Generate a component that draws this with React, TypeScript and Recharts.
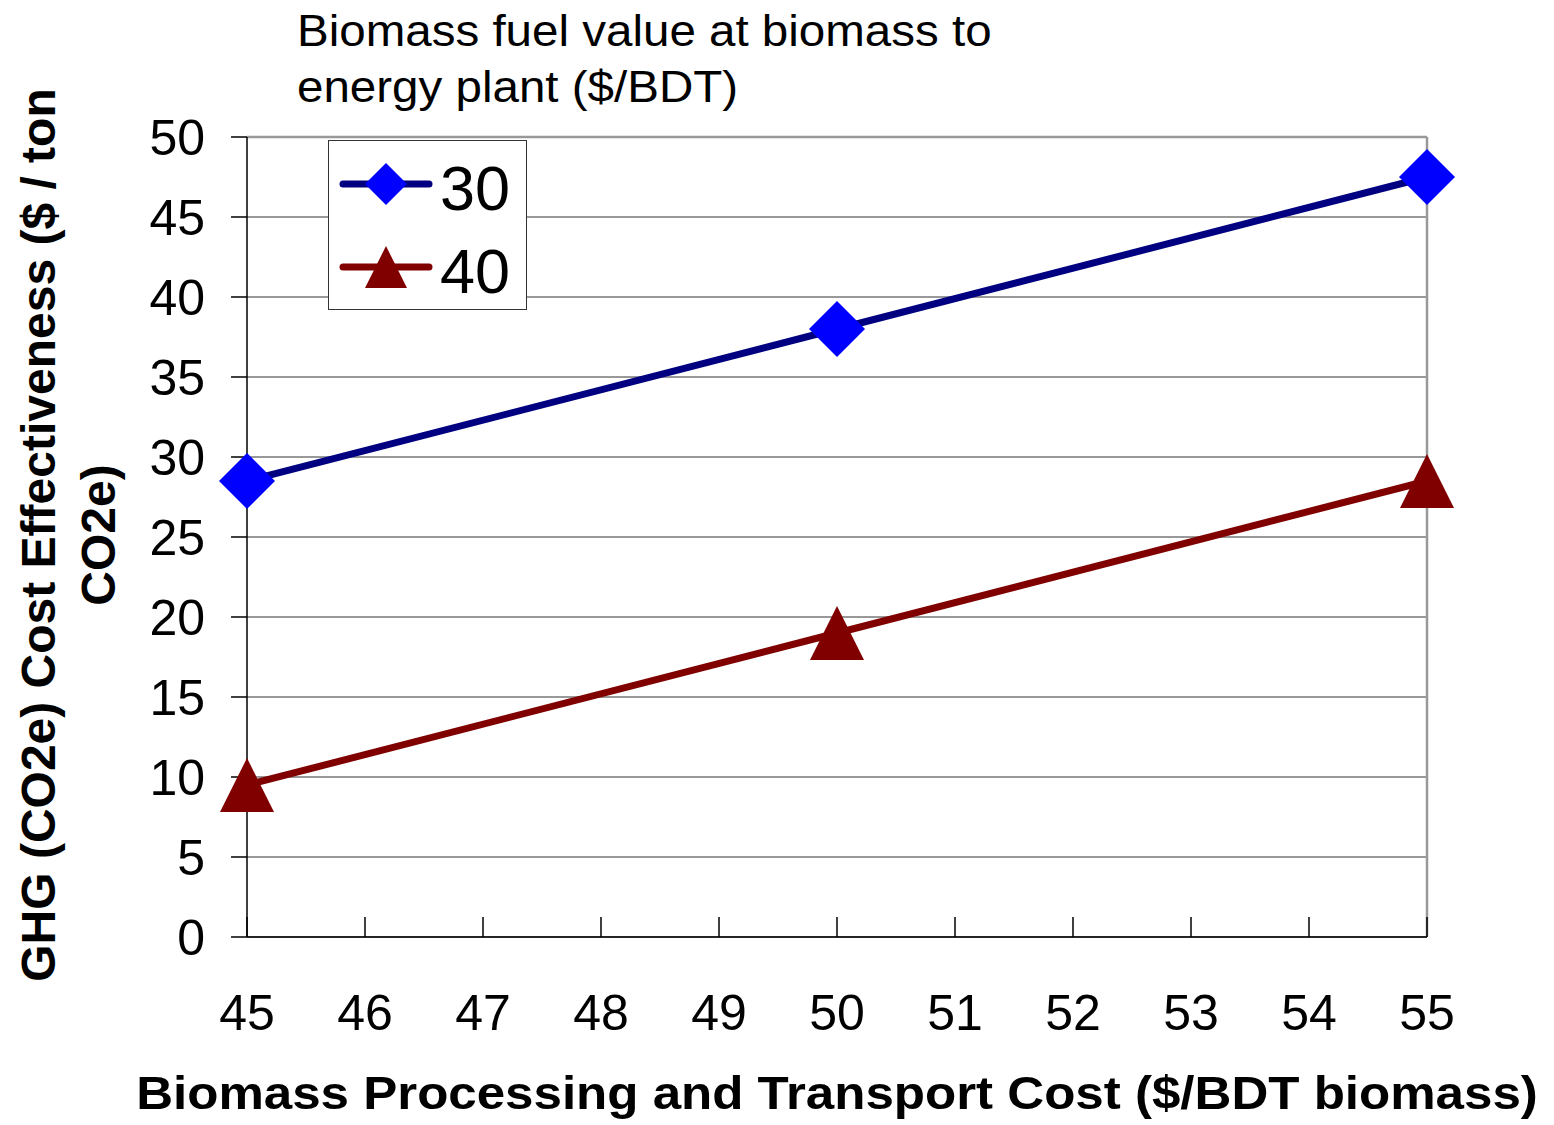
import React from "react";
import {
  CartesianGrid,
  Legend,
  Line,
  LineChart,
  ReferenceLine,
  XAxis,
  YAxis,
} from "recharts";

// processing + transport cost ($/BDT biomass)
const costs = [45, 50, 55];
// GHG cost effectiveness ($ / ton CO2e) per fuel value series
const fuel30 = [28.5, 38, 47.5];
const fuel40 = [9.5, 19, 28.5];

const xTicks = [45, 46, 47, 48, 49, 50, 51, 52, 53, 54, 55];
const yTicks = [0, 5, 10, 15, 20, 25, 30, 35, 40, 45, 50];

const seriesNames = ["30", "40"];

const data = costs.map((c, i) => ({
  cost: c,
  v30: fuel30[i],
  v40: fuel40[i],
}));

const FONT = "'Liberation Sans', Arial, Helvetica, sans-serif";

const W = 1554;
const H = 1125;

// diamond marker
const diamond = (cx: number, cy: number, r: number, fill: string, key?: any) => (
  <path
    key={key}
    d={`M${cx},${cy - r}L${cx + r},${cy}L${cx},${cy + r}L${cx - r},${cy}Z`}
    fill={fill}
  />
);

// triangle marker, centred on the point
const triangle = (cx: number, cy: number, r: number, fill: string, key?: any) => (
  <path
    key={key}
    d={`M${cx},${cy - r}L${cx + r},${cy + r}L${cx - r},${cy + r}Z`}
    fill={fill}
  />
);

const XTick = (props: any) => {
  const { x, y, payload } = props;
  return (
    <g>
      <line x1={x} x2={x} y1={y - 20} y2={y} stroke="#000" strokeWidth={1.5} />
      <text
        x={x}
        y={y + 93}
        textAnchor="middle"
        fontSize={50}
        fontFamily={FONT}
        fill="#000"
      >
        {payload.value}
      </text>
    </g>
  );
};

const renderLegend = () => (
  <div
    style={{
      width: 199,
      height: 170,
      boxSizing: "border-box",
      border: "1.5px solid #333",
      background: "#fff",
    }}
  >
    <svg width={197} height={168}>
      {seriesNames.map((name, i) => {
        const y = 43 + i * 83;
        const color = i === 0 ? "#000080" : "#800000";
        return (
          <g key={name}>
            <line
              x1={14}
              x2={100}
              y1={y}
              y2={y}
              stroke={color}
              strokeWidth={7}
              strokeLinecap="round"
            />
            {i === 0
              ? diamond(57, y, 21, "#0000ff")
              : triangle(57, y, 21, "#800000")}
            <text
              x={111}
              y={y + 26}
              fontSize={63}
              fontFamily={FONT}
              fill="#000"
            >
              {name}
            </text>
          </g>
        );
      })}
    </svg>
  </div>
);

export default function App() {
  return (
    <div
      style={{
        position: "absolute",
        left: 0,
        top: 0,
        width: W,
        height: H,
        background: "#fff",
        fontFamily: FONT,
        overflow: "hidden",
      }}
    >
      <LineChart
        width={W}
        height={H}
        data={data}
        margin={{ top: 137, right: 127, bottom: 88, left: 147 }}
      >
        <CartesianGrid vertical={false} stroke="#333" strokeWidth={1} />
        <ReferenceLine y={50} stroke="#999" strokeWidth={2.5} />
        <ReferenceLine x={55} stroke="#999" strokeWidth={2.5} />
        <XAxis
          dataKey="cost"
          type="number"
          domain={[45, 55]}
          ticks={xTicks}
          interval={0}
          height={100}
          axisLine={{ stroke: "#000", strokeWidth: 1.5 }}
          tickLine={false}
          tickSize={0}
          tickMargin={0}
          tick={<XTick />}
        />
        <YAxis
          type="number"
          domain={[0, 50]}
          ticks={yTicks}
          interval={0}
          width={100}
          axisLine={{ stroke: "#000", strokeWidth: 1.5 }}
          tickLine={{ stroke: "#000", strokeWidth: 1.5 }}
          tickSize={16}
          tickMargin={26}
          tick={{ fontSize: 50, fill: "#000", fontFamily: FONT }}
        />
        <Legend
          layout="vertical"
          align="center"
          verticalAlign="middle"
          content={renderLegend}
          wrapperStyle={{ position: "absolute", left: 328, top: 140, width: 199, height: 170 }}
        />
        <Line
          type="linear"
          dataKey="v30"
          name="30"
          stroke="#000080"
          strokeWidth={7}
          isAnimationActive={false}
          dot={(p: any) => diamond(p.cx, p.cy, 28, "#0000ff", `d30-${p.index}`)}
          activeDot={false}
        />
        <Line
          type="linear"
          dataKey="v40"
          name="40"
          stroke="#800000"
          strokeWidth={7}
          isAnimationActive={false}
          dot={(p: any) => triangle(p.cx, p.cy, 27, "#800000", `d40-${p.index}`)}
          activeDot={false}
        />
      </LineChart>

      {/* chart title */}
      <div
        style={{
          position: "absolute",
          left: 297,
          top: 3,
          fontSize: 44,
          lineHeight: "56px",
          whiteSpace: "nowrap",
          transform: "scaleX(1.08)",
          transformOrigin: "left top",
        }}
      >
        Biomass fuel value at biomass to
        <br />
        energy plant ($/BDT)
      </div>

      {/* y axis title */}
      <div
        style={{
          position: "absolute",
          left: 69 - 550,
          top: 535 - 60,
          width: 1100,
          height: 120,
          fontSize: 48,
          fontWeight: "bold",
          lineHeight: "60px",
          textAlign: "center",
          transform: "rotate(-90deg)",
          transformOrigin: "center center",
          whiteSpace: "nowrap",
        }}
      >
        GHG (CO2e) Cost Effectiveness ($ / ton
        <br />
        CO2e)
      </div>

      {/* x axis title */}
      <div
        style={{
          position: "absolute",
          left: 0,
          top: 1068,
          width: 1674,
          fontSize: 46,
          fontWeight: "bold",
          lineHeight: "50px",
          textAlign: "center",
          whiteSpace: "nowrap",
          transform: "scaleX(1.11)",
          transformOrigin: "837px 0",
        }}
      >
        Biomass Processing and Transport Cost ($/BDT biomass)
      </div>
    </div>
  );
}
